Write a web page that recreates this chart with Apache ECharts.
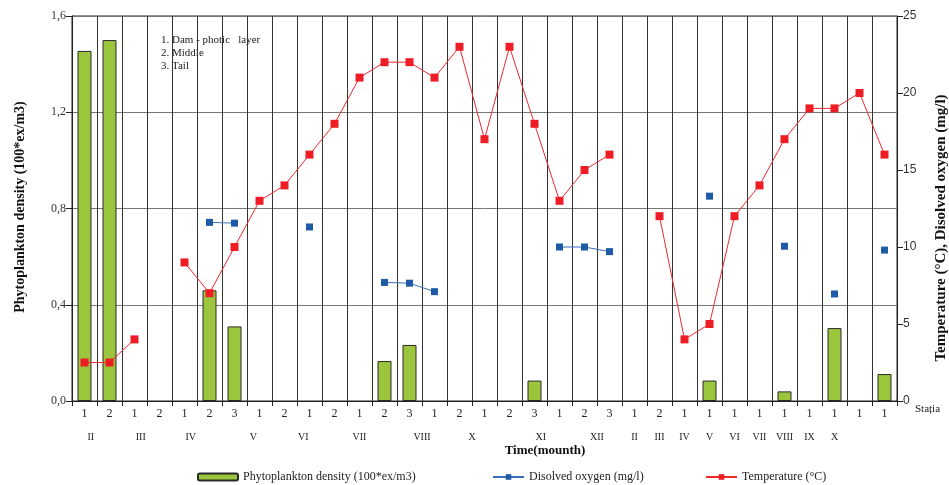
<!DOCTYPE html>
<html>
<head>
<meta charset="utf-8">
<script src="https://cdn.jsdelivr.net/npm/echarts@6/dist/echarts.min.js"></script>
<style>
  html, body { margin: 0; padding: 0; background: #fff; }
  #chart { width: 949px; height: 485px; }
</style>
</head>
<body>
<div id="chart"></div>
<script>
// Sampling stations, in order of the campaign (1 = dam, 2 = middle, 3 = tail)
const stations = ['1','2','1','2','1','2','3','1','2','1','2','1','2','3','1','2','1','2','3','1','2','3','1','2','1','1','1','1','1','1','1','1','1'];

// Months of each sampling group, placed along the station axis (in station units)
const monthLabels = ['II','III','IV','V','VI','VII','VIII','X','XI','XII','II','III','IV','V','VI','VII','VIII','IX','X'];
const monthAt = [0.75, 2.75, 4.75, 7.25, 9.25, 11.5, 14, 16, 18.75, 21, 22.5, 23.5, 24.5, 25.5, 26.5, 27.5, 28.5, 29.5, 30.5];

// Phytoplankton density (100*ex/m3)
const phyto = [1.455, 1.5, null, null, null, 0.46, 0.31, null, null, null, null, null, 0.166, 0.233, null, null, null, null, 0.085, null, null, null, null, null, null, 0.085, null, null, 0.04, null, 0.303, null, 0.112];

// Dissolved oxygen (mg/l)
const oxygen = [null, null, null, null, null, 11.6, 11.55, null, null, 11.3, null, null, 7.7, 7.65, 7.1, null, null, null, null, 10.0, 10.0, 9.7, null, null, null, 13.3, null, null, 10.05, null, 6.95, null, 9.8];

// Water temperature (°C)
const temperature = [2.5, 2.5, 4, null, 9, 7, 10, 13, 14, 16, 18, 21, 22, 22, 21, 23, 17, 23, 18, 13, 15, 16, null, 12, 4, 5, 12, 14, 17, 19, 19, 20, 16];

// Axis ticks
const densityTicks = { min: 0, max: 1.6, interval: 0.4 };
const tempTicks = { min: 0, max: 25, interval: 5 };

const serif = '"Liberation Serif", "Times New Roman", serif';
const monthByKey = {};
monthAt.forEach((p, i) => { monthByKey[Math.round(p * 4)] = monthLabels[i]; });

const chart = echarts.init(document.getElementById('chart'), null, { renderer: 'canvas' });

chart.setOption({
  animation: false,
  backgroundColor: '#ffffff',
  textStyle: { fontFamily: serif, color: '#222' },
  grid: {
    left: 72, right: 52, top: 16, bottom: 84,
    show: true, borderColor: '#222', borderWidth: 1, backgroundColor: 'transparent'
  },
  legend: [
    {
      data: ['Phytoplankton density (100*ex/m3)'],
      left: 192, top: 466, itemWidth: 40, itemHeight: 7, itemGap: 4,
      textStyle: { fontFamily: serif, fontSize: 12, color: '#222' }
    },
    {
      data: ['Disolved oxygen (mg/l)'],
      left: 487, top: 466, itemWidth: 31, itemHeight: 7, itemGap: 4,
      textStyle: { fontFamily: serif, fontSize: 12, color: '#222' }
    },
    {
      data: ['Temperature (°C)'],
      left: 700, top: 466, itemWidth: 31, itemHeight: 7, itemGap: 4,
      textStyle: { fontFamily: serif, fontSize: 12, color: '#222' }
    }
  ],
  xAxis: [
    {
      type: 'category',
      data: stations,
      boundaryGap: true,
      axisLine: { lineStyle: { color: '#222', width: 1 } },
      axisTick: { show: true, interval: 0, length: 5, lineStyle: { color: '#222' } },
      axisLabel: { interval: 0, margin: 7, fontFamily: serif, fontSize: 12, color: '#222' },
      splitLine: { show: true, interval: 0, lineStyle: { color: '#333', width: 1 } }
    },
    {
      type: 'value',
      position: 'bottom',
      min: 0, max: stations.length, interval: 0.25,
      axisLine: { show: false },
      axisTick: { show: false },
      splitLine: { show: false },
      axisLabel: {
        margin: 31, fontFamily: serif, fontSize: 10, color: '#222',
        formatter: v => monthByKey[Math.round(v * 4)] || ''
      }
    }
  ],
  yAxis: [
    {
      type: 'value',
      min: densityTicks.min, max: densityTicks.max, interval: densityTicks.interval,
      axisLine: { show: true, lineStyle: { color: '#222' } },
      axisTick: { show: true, length: 6, lineStyle: { color: '#222' } },
      axisLabel: {
        margin: 6, fontFamily: serif, fontSize: 12, color: '#333',
        formatter: v => v.toFixed(1).replace('.', ',')
      },
      splitLine: { show: true, lineStyle: { color: '#777', width: 1 } }
    },
    {
      type: 'value',
      position: 'right',
      min: tempTicks.min, max: tempTicks.max, interval: tempTicks.interval,
      axisLine: { show: true, lineStyle: { color: '#222' } },
      axisTick: { show: true, length: 6, lineStyle: { color: '#222' } },
      axisLabel: { margin: 6, fontFamily: '"Liberation Sans", Arial, sans-serif', fontSize: 12, color: '#333' },
      splitLine: { show: false }
    }
  ],
  series: [
    {
      name: 'Phytoplankton density (100*ex/m3)',
      type: 'bar',
      xAxisIndex: 0, yAxisIndex: 0,
      data: phyto,
      barWidth: 14,
      itemStyle: { color: '#9bc53d', borderColor: '#2a2a2a', borderWidth: 1 },
      z: 2
    },
    {
      name: 'Disolved oxygen (mg/l)',
      type: 'line',
      xAxisIndex: 0, yAxisIndex: 1,
      data: oxygen,
      connectNulls: false,
      symbol: 'rect', symbolSize: 7,
      itemStyle: { color: '#1f5aa6' },
      lineStyle: { color: '#3a6fb8', width: 1 },
      z: 3
    },
    {
      name: 'Temperature (°C)',
      type: 'line',
      xAxisIndex: 0, yAxisIndex: 1,
      data: temperature,
      connectNulls: false,
      symbol: 'rect', symbolSize: 8,
      itemStyle: { color: '#ee1c25' },
      lineStyle: { color: '#f0282e', width: 1 },
      z: 4
    }
  ],
  graphic: [
    {
      type: 'text', left: 161, top: 34,
      style: {
        text: '1. Dam - photic   layer\n2. Middle\n3. Tail',
        font: '11px ' + serif, fill: '#222', lineHeight: 13
      }
    },
    {
      type: 'text', x: 20, y: 207, rotation: Math.PI / 2,
      style: {
        text: 'Phytoplankton density (100*ex/m3)',
        font: 'bold 14px ' + serif, fill: '#111', align: 'center', verticalAlign: 'middle'
      }
    },
    {
      type: 'text', x: 941, y: 228, rotation: Math.PI / 2,
      style: {
        text: 'Temperature (°C), Disolved oxygen (mg/l)',
        font: 'bold 15px ' + serif, fill: '#111', align: 'center', verticalAlign: 'middle'
      }
    },
    {
      type: 'text', x: 545, y: 451,
      style: {
        text: 'Time(mounth)',
        font: 'bold 13px ' + serif, fill: '#111', align: 'center', verticalAlign: 'middle'
      }
    },
    {
      type: 'text', x: 915, y: 409,
      style: {
        text: 'Stația',
        font: '11px ' + serif, fill: '#222', align: 'left', verticalAlign: 'middle'
      }
    }
  ]
});
</script>
</body>
</html>
